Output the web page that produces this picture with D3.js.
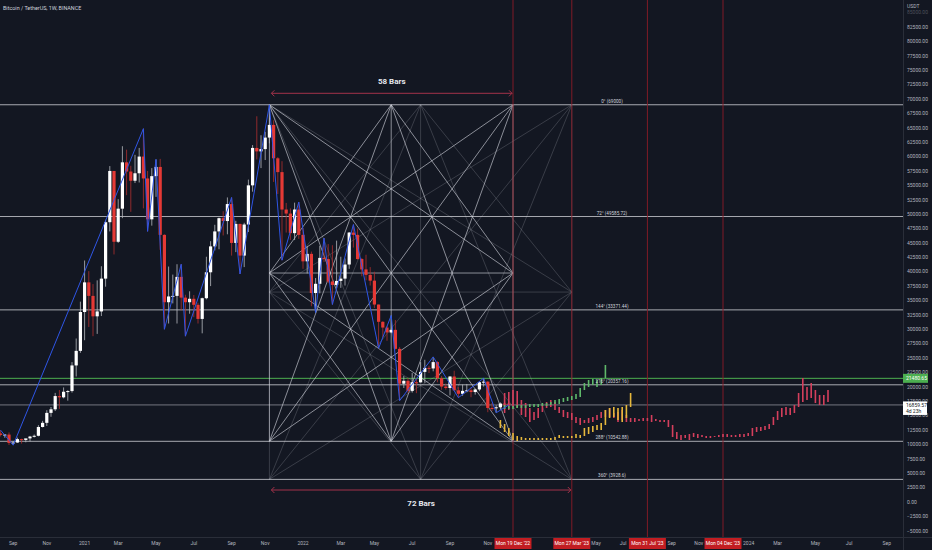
<!DOCTYPE html>
<html>
<head>
<meta charset="utf-8">
<script src="https://cdnjs.cloudflare.com/ajax/libs/d3/7.8.5/d3.min.js"></script>
<style>
  html, body { margin: 0; padding: 0; background: #131722; overflow: hidden; }
  svg { display: block; font-family: Roboto, "Noto Sans", sans-serif; }
</style>
</head>
<body>
<svg id="chart" width="932" height="550"></svg>
<script>
// weekly BTC/USDT candles, first bar = week of 2020-08-17
const firstWeek = '2020-08-17';
const opens = [
  11900,11650,11710,10260,10330,10920,10780,11050,11370,11500,13030,13750,15480,16100,18400,18180,19150,19270,23720,26250,
  33000,38150,35800,32250,33100,38800,48600,57500,45200,50950,59000,57400,55800,57100,60000,56200,49100,56600,58200,46400,
  34700,35700,35800,39100,35500,34700,35300,34250,31800,35400,39900,44400,47000,49300,48800,51750,45000,48300,42800,48200,
  55000,61500,60900,61300,63300,65500,59700,57300,50800,50100,46700,50800,
  46400,41800,43100,36300,37900,42400,42200,38300,37700,38400,38800,41250,46800,46400,42200,40400,39450,38450,34300,31300,
  30300,29450,29900,26600,20550,21050,19300,20800,20780,22600,23300,23200,24300,21500,20050,19800,21800,19400,18800,19300,
  19400,19100,19550,20800,20900,16330,16280,16450,17100,17090
];
const highs = [
  12470,11800,12090,10580,11180,10990,10950,11490,11720,13350,14090,15950,16500,18950,19450,19900,19420,24300,28400,34800,
  41950,40100,37850,38500,40950,49000,58350,57500,52600,61800,61200,58400,60300,61500,64850,57500,58000,59500,59600,46500,
  40900,39500,41300,41300,36000,36600,35950,34600,35500,42600,45300,48150,49400,50500,52900,52900,48850,48350,48500,56000,
  62000,67000,63700,64300,69000,66300,59900,59200,51950,51000,52000,52100,
  47600,44450,43500,38900,44500,45850,44800,44600,45400,42600,42300,46900,48200,47500,42400,42950,40800,40000,34300,31400,
  30600,32400,31600,26900,21900,21550,22400,21600,24300,24700,23650,25200,24450,21900,20580,21850,22800,19950,20400,20500,
  19900,19700,20900,21500,21000,17200,16800,17300,17450,17500
];
const lows = [
  11380,11150,9900,9880,10270,10140,10370,10530,11210,11400,12950,13200,14800,15800,16180,18000,17600,19000,21800,25900,
  28100,30400,28800,29200,32300,37400,47000,43000,45000,49300,53300,50400,55400,55500,51000,47000,48000,53000,43800,30000,
  31000,34500,31000,33300,28800,32700,32100,31000,29300,35200,37500,43700,43900,46300,46500,42800,43400,39600,40800,46900,
  53900,59500,58000,59400,62300,55600,53500,42000,46800,45500,45500,45700,
  40500,39700,34000,32900,36250,41700,38000,34300,37150,37200,37600,40500,44200,42100,39200,38500,37600,33700,26700,28600,
  28000,29300,26500,17600,19800,18950,19000,18900,20750,20700,22400,22700,20800,19500,19500,18500,19300,18125,18450,19050,
  18200,18650,19250,20050,15600,15800,15500,16000,16700,16600
];
const closes = [
  11650,11710,10260,10330,10920,10780,11050,11370,11500,13030,13750,15480,16100,18400,18180,19150,19270,23720,26250,33000,
  38150,35800,32250,33100,38800,48600,57500,45200,50950,59000,57400,55800,57100,60000,56200,49100,56600,58200,46400,34700,
  35700,35800,39100,35500,34700,35300,34250,31800,35400,39900,44400,47000,49300,48800,51750,45000,48300,42800,48200,55000,
  61500,60900,61300,63300,65500,59700,57300,50800,50100,46700,50800,46400,
  41800,43100,36300,37900,42400,42200,38300,37700,38400,38800,41250,46800,46400,42200,40400,39450,38450,34300,31300,30300,
  29450,29900,26600,20550,21050,19300,20800,20780,22600,23300,23200,24300,21500,20050,19800,21800,19400,18800,19300,19400,
  19100,19550,20800,20900,16330,16280,16450,17100,17090,16859.57
];

// zigzag swing points
const zigzagDates = ['2020-08-17','2020-09-07','2021-04-12','2021-04-19','2021-05-03','2021-05-17','2021-06-14','2021-06-21',
  '2021-09-06','2021-09-20','2021-11-08','2021-11-29','2021-12-27','2022-01-24','2022-02-07','2022-02-21','2022-03-28',
  '2022-05-09','2022-05-30','2022-06-13','2022-08-08','2022-09-19','2022-10-31','2022-11-21','2022-12-12'];
const zigzagPrices = [12470,9880,64850,47000,59500,30000,41300,28800,
  52900,39600,69000,42000,52100,32900,45850,34300,48200,
  26700,32400,17600,25200,18125,21500,15500,16859.57];

// projected bar patterns (high / low per week)
const redStart = '2022-12-05';
const redHigh = [18933,19107,19454,19281,17718,17197,16328,15633,16328,16849,17370,17718,17370,16502,15980,15633,15459,14765,14590,14243,
  14590,14765,15112,15633,15980,16328,15459,15633,15980,15112,14590,14590,14417,14590,14590,15112,14417,14243,14243,14243,
  13375,12159,11638,11638,11812,11985,11812,11638,11464,11464,11464,11638,11812,11812,11638,11638,11812,11812,11985,12854,
  13028,13028,13201,13549,14765,15807,16328,16502,16328,16849,18933,21539,19976,20670,19454,18586,18586,19454];
const redLow = [15459,15980,16502,16328,15112,14765,13896,14243,14590,15633,16328,16502,15980,15459,14765,14590,14243,13722,13375,13722,
  13722,13896,14243,14590,14765,14765,14590,13896,14243,13896,13896,13896,14070,14070,14070,13896,14070,13896,13896,13028,
  11290,10943,10769,11117,10769,11290,11117,11290,11117,11117,11290,11290,11290,11290,11290,11290,11290,11290,11464,11464,
  12159,12333,12506,12680,13375,14243,14765,15112,15112,15459,16502,17370,17718,18065,17197,16849,16849,17370];

const greenStart = '2022-12-05';
const greenHigh = [16849,16675,16675,16849,16849,16849,17023,17023,17023,17197,17197,17370,17718,17891,18065,18239,18412,18760,19802,20670,
  21191,21365,21191,21539,23797];
const greenLow = [16154,16154,16154,16328,16328,16328,16502,16502,16502,16675,16675,16849,17023,17023,17370,17544,17718,17891,18239,19454,
  19976,20323,19976,20323,21539];

const yellowStart = '2022-11-28';
const yellowHigh = [14243,13549,12854,11985,11464,11290,11117,11117,11117,11117,11117,11117,11117,11290,11638,11464,11464,11464,11812,11638,
  12854,13028,13201,13375,13722,15980,16328,16502,16328,16502,16849,18933];
const yellowLow = [12854,12159,11464,10769,10596,10769,10769,10769,10769,10769,10769,10769,10769,10769,11117,11117,11117,11117,11117,11117,
  11464,11812,12159,12506,12506,13375,14590,14765,14243,13896,14590,16502];

// gann box levels
const gannDegrees = ['0°','72°','144°','216°','288°','360°'];
const gannPrices = [69000, 49585.72, 33371.44, 20357.16, 10542.88, 3928.6];
const gannStart = '2021-11-08';
const gannEnds = ['2022-12-19', '2023-03-27'];
const gannBars = ['58 Bars', '72 Bars'];

// vertical date markers
const markerDates = ['2022-12-19','2023-03-27','2023-07-31','2023-12-04'];
const markerLabels = ["Mon 19 Dec '22","Mon 27 Mar '23","Mon 31 Jul '23","Mon 04 Dec '23"];

const lastPrice = 16859.57;
const lastCountdown = '4d 23h';
const alertPrice = 21480.65;

const W = 932, H = 550, plotW = 903, plotH = 537;
const parse = d3.utcParse('%Y-%m-%d');

const svg = d3.select('#chart');
svg.append('rect').attr('width', W).attr('height', H).attr('fill', '#131722');

let x = d3.scaleUtc()
  .domain([parse('2020-08-17'), parse('2022-12-19')])
  .range([0.6, 513]);
let y = d3.scaleLinear().domain([0, 70000]).range([502, 99]);

svg.append('clipPath').attr('id', 'plot')
  .append('rect').attr('width', plotW).attr('height', plotH);

let g = svg.append('g').attr('clip-path', 'url(#plot)');

// horizontal degree levels
gannPrices.forEach(function (p) {
  g.append('line')
    .attr('x1', 0).attr('x2', plotW)
    .attr('y1', y(p)).attr('y2', y(p))
    .attr('stroke', '#c3c5cb').attr('stroke-width', 1).attr('opacity', 0.85);
});

g.append('line')
  .attr('x1', 0).attr('x2', plotW).attr('y1', y(alertPrice)).attr('y2', y(alertPrice))
  .attr('stroke', '#4caf50').attr('stroke-width', 1);
g.append('line')
  .attr('x1', 0).attr('x2', plotW).attr('y1', y(lastPrice)).attr('y2', y(lastPrice))
  .attr('stroke', '#9598a1').attr('stroke-width', 1).attr('opacity', 0.75);

// gann square fans
let _gannLines = function (x0, x1, y0, y1) {
  let xm = (x0 + x1) / 2, ym = (y0 + y1) / 2;
  let TL = [x0, y0], TR = [x1, y0], BL = [x0, y1], BR = [x1, y1];
  let TM = [xm, y0], BM = [xm, y1], LM = [x0, ym], RM = [x1, ym];
  return [[TL, BR], [TR, BL], [TL, BM], [TL, RM], [TR, BM], [TR, LM], [BL, TM], [BL, RM],
    [BR, TM], [BR, LM], [TM, LM], [LM, BM], [BM, RM], [RM, TM], [TM, BM], [LM, RM], [TL, BL], [TR, BR]];
};

let gx0 = x(parse(gannStart));
let boxes = [
  { x1: x(parse(gannEnds[1])), y1: y(gannPrices[5]), op: 0.22 },
  { x1: x(parse(gannEnds[0])), y1: y(gannPrices[4]), op: 0.7 }
];
boxes.forEach(function (b) {
  g.append('g').selectAll('line')
    .data(_gannLines(gx0, b.x1, y(gannPrices[0]), b.y1))
    .join('line')
    .attr('x1', d => d[0][0]).attr('y1', d => d[0][1])
    .attr('x2', d => d[1][0]).attr('y2', d => d[1][1])
    .attr('stroke', '#d1d4dc').attr('stroke-width', 0.9).attr('opacity', b.op);
});

// red vertical date markers
markerDates.forEach(function (d) {
  g.append('line')
    .attr('x1', x(parse(d))).attr('x2', x(parse(d)))
    .attr('y1', 0).attr('y2', plotH)
    .attr('stroke', '#8c1d28').attr('stroke-width', 1).attr('opacity', 0.9);
});

// candles
let weeks = opens.map((o, i) => d3.utcMonday.offset(parse(firstWeek), i));
let candle = g.append('g').selectAll('g')
  .data(weeks.map((w, i) => ({ w: w, o: opens[i], h: highs[i], l: lows[i], c: closes[i] })))
  .join('g');
let upCol = '#ffffff', downCol = '#e53935';
candle.append('line')
  .attr('x1', d => x(d.w)).attr('x2', d => x(d.w))
  .attr('y1', d => y(d.h)).attr('y2', d => y(d.l))
  .attr('stroke', d => d.c >= d.o ? '#b8bac0' : '#b0302e').attr('stroke-width', 0.8);
candle.append('rect')
  .attr('x', d => x(d.w) - 1.6).attr('width', 3.2)
  .attr('y', d => y(Math.max(d.o, d.c)))
  .attr('height', d => Math.max(1, Math.abs(y(d.o) - y(d.c))))
  .attr('fill', d => d.c >= d.o ? upCol : downCol);

// projected bars
let _drawBars = function (start, hi, lo, color) {
  g.append('g').selectAll('rect')
    .data(hi.map((h, i) => ({ w: d3.utcMonday.offset(parse(start), i), h: h, l: lo[i] })))
    .join('rect')
    .attr('x', d => x(d.w) - 0.8).attr('width', 1.6)
    .attr('y', d => y(d.h))
    .attr('height', d => Math.max(1, y(d.l) - y(d.h)))
    .attr('fill', color);
};
_drawBars(redStart, redHigh, redLow, '#d43f5c');
_drawBars(greenStart, greenHigh, greenLow, '#5fb86a');
_drawBars(yellowStart, yellowHigh, yellowLow, '#e6b83c');

// zigzag
g.append('path')
  .datum(zigzagDates.map((d, i) => [x(parse(d)), y(zigzagPrices[i])]))
  .attr('d', d3.line())
  .attr('fill', 'none')
  .attr('stroke', '#2f56e6').attr('stroke-width', 1);

// degree labels
gannDegrees.forEach(function (deg, i) {
  g.append('text')
    .attr('x', 612).attr('y', y(gannPrices[i]) - 2)
    .attr('text-anchor', 'middle')
    .attr('font-size', 4.6).attr('fill', '#d1d4dc')
    .text(deg + ' (' + gannPrices[i] + ')');
});

// bar-count ranges
let arrowCol = '#a3324a';
let ranges = [
  { x1: x(parse(gannEnds[0])), ay: 93.3, ty: 83.5 },
  { x1: x(parse(gannEnds[1])), ay: 490, ty: 506 }
];
ranges.forEach(function (r, i) {
  let xa = gx0 + 2, xb = r.x1 - 1;
  g.append('line').attr('x1', xa).attr('x2', xb).attr('y1', r.ay).attr('y2', r.ay)
    .attr('stroke', arrowCol).attr('stroke-width', 1);
  g.append('path')
    .attr('d', 'M' + (xa + 3) + ',' + (r.ay - 3) + 'L' + xa + ',' + r.ay + 'L' + (xa + 3) + ',' + (r.ay + 3) +
      'M' + (xb - 3) + ',' + (r.ay - 3) + 'L' + xb + ',' + r.ay + 'L' + (xb - 3) + ',' + (r.ay + 3))
    .attr('fill', 'none').attr('stroke', arrowCol).attr('stroke-width', 1);
  g.append('text')
    .attr('x', (xa + xb) / 2).attr('y', r.ty)
    .attr('text-anchor', 'middle')
    .attr('font-size', 8).attr('font-weight', 'bold').attr('fill', '#e6e8ee')
    .text(gannBars[i]);
});

// title
svg.append('text')
  .attr('x', 3).attr('y', 10)
  .attr('font-size', 5.4).attr('fill', '#d1d4dc')
  .text('Bitcoin / TetherUS, 1W, BINANCE');

// axes frame
svg.append('line').attr('x1', 0).attr('x2', W).attr('y1', plotH + 0.5).attr('y2', plotH + 0.5)
  .attr('stroke', '#2a2e39').attr('stroke-width', 1);
svg.append('line').attr('x1', plotW + 0.5).attr('x2', plotW + 0.5).attr('y1', 0).attr('y2', H)
  .attr('stroke', '#2a2e39').attr('stroke-width', 1);

// price axis
let fmt = d3.format('.2f');
svg.append('g').selectAll('text')
  .data(d3.range(-5000, 85001, 2500))
  .join('text')
  .attr('x', 907).attr('y', d => y(d))
  .attr('dy', '0.35em')
  .attr('font-size', 5).attr('fill', '#b2b5be')
  .attr('opacity', d => d > 82500 ? 0.35 : 1)
  .text(d => fmt(d));
svg.append('text').attr('x', 907).attr('y', 8)
  .attr('font-size', 5).attr('fill', '#b2b5be').text('USDT');

// price tags
svg.append('rect').attr('x', 903).attr('y', y(alertPrice) - 4.5).attr('width', 25).attr('height', 9)
  .attr('fill', '#4caf50');
svg.append('text').attr('x', 906).attr('y', y(alertPrice)).attr('dy', '0.35em')
  .attr('font-size', 5).attr('fill', '#ffffff').text(fmt(alertPrice));
svg.append('rect').attr('x', 903).attr('y', y(lastPrice) - 3.5).attr('width', 24).attr('height', 13.5)
  .attr('fill', '#ffffff');
svg.append('text').attr('x', 906).attr('y', y(lastPrice) + 0.5).attr('dy', '0.35em')
  .attr('font-size', 5).attr('fill', '#131722').text(fmt(lastPrice));
svg.append('text').attr('x', 906).attr('y', y(lastPrice) + 6.5).attr('dy', '0.35em')
  .attr('font-size', 5).attr('fill', '#131722').text(lastCountdown);

// time axis: month labels pushed out from under the red date boxes
let boxHalf = 18.5;
let spans = markerDates.map(d => [x(parse(d)) - boxHalf, x(parse(d)) + boxHalf]);
let months = d3.utcMonth.every(2).range(parse('2020-09-01'), parse('2024-10-01'));
let monthLabels = [];
months.forEach(function (m) {
  let t = m.getUTCMonth() === 0 ? d3.utcFormat('%Y')(m) : d3.utcFormat('%b')(m);
  let lx = x(d3.utcMonday.ceil(m));
  let hw = t.length * 1.45 + 0.6;
  let hidden = false;
  spans.forEach(function (s) {
    if (lx + hw > s[0] && lx - hw < s[1]) {
      if (lx - hw >= s[0] && lx + hw <= s[1]) hidden = true;
      else if (lx < (s[0] + s[1]) / 2) lx = s[0] - hw - 0.8;
      else lx = s[1] + hw + 0.8;
    }
  });
  if (!hidden) monthLabels.push({ t: t, x: lx });
});
svg.append('g').selectAll('text')
  .data(monthLabels)
  .join('text')
  .attr('x', d => d.x)
  .attr('y', 543).attr('dy', '0.35em')
  .attr('text-anchor', 'middle')
  .attr('font-size', 5).attr('fill', '#b2b5be')
  .text(d => d.t);

markerDates.forEach(function (d, i) {
  let mx = x(parse(d));
  svg.append('rect').attr('x', mx - boxHalf).attr('y', 538).attr('width', boxHalf * 2).attr('height', 11)
    .attr('fill', '#c21d22');
  svg.append('text').attr('x', mx).attr('y', 543.5).attr('dy', '0.35em')
    .attr('text-anchor', 'middle').attr('font-size', 5).attr('fill', '#ffffff')
    .text(markerLabels[i]);
});
</script>
</body>
</html>
